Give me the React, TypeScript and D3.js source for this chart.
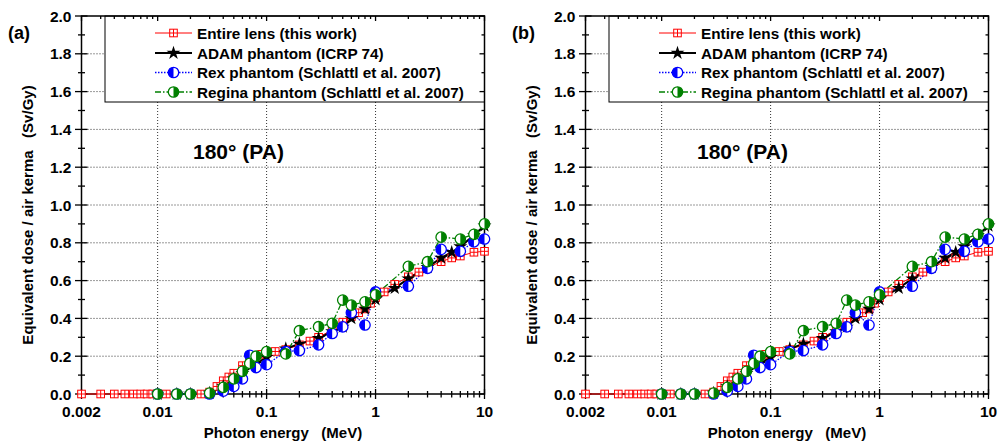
import React from 'react';
import * as d3 from 'd3';

const redE = [0.002, 0.003, 0.004, 0.005, 0.006, 0.007, 0.008, 0.009, 0.01, 0.012, 0.015, 0.02, 0.025, 0.03, 0.035, 0.04, 0.045, 0.05, 0.06, 0.07, 0.08, 0.09, 0.1, 0.12, 0.15, 0.2, 0.25, 0.3, 0.4, 0.5, 0.6, 0.7, 0.8, 0.9, 1, 1.2, 1.5, 2, 2.5, 3, 4, 5, 6, 8, 10];
const redV = [0, 0, 0, 0, 0, 0, 0, 0, 0, 0, 0, 0, 0, 0.01, 0.04, 0.07, 0.09, 0.11, 0.15, 0.18, 0.2, 0.21, 0.215, 0.225, 0.235, 0.26, 0.28, 0.3, 0.34, 0.38, 0.41, 0.43, 0.45, 0.48, 0.51, 0.54, 0.58, 0.62, 0.645, 0.67, 0.7, 0.72, 0.73, 0.75, 0.755];

const blackE = [0.01, 0.015, 0.02, 0.03, 0.04, 0.05, 0.06, 0.08, 0.1, 0.15, 0.2, 0.3, 0.4, 0.5, 0.6, 0.8, 1, 1.5, 2, 3, 4, 5, 6, 8, 10];
const blackV = [0, 0, 0, 0.005, 0.04, 0.08, 0.11, 0.16, 0.195, 0.24, 0.265, 0.295, 0.33, 0.355, 0.4, 0.45, 0.5, 0.56, 0.61, 0.67, 0.72, 0.75, 0.78, 0.84, 0.89];

const rexE = [0.01, 0.015, 0.02, 0.03, 0.04, 0.05, 0.06, 0.07, 0.08, 0.1, 0.15, 0.2, 0.3, 0.4, 0.5, 0.6, 0.8, 1, 2, 3, 4, 6, 8, 10];
const rexV = [0, 0, 0, 0, 0.015, 0.04, 0.08, 0.205, 0.14, 0.155, 0.225, 0.23, 0.26, 0.32, 0.355, 0.43, 0.365, 0.54, 0.57, 0.665, 0.765, 0.755, 0.805, 0.82];

const reginaE = [0.01, 0.015, 0.02, 0.03, 0.04, 0.05, 0.06, 0.07, 0.08, 0.1, 0.15, 0.2, 0.3, 0.4, 0.5, 0.6, 0.8, 1, 2, 3, 4, 6, 8, 10];
const reginaV = [0, 0, 0, 0.005, 0.035, 0.08, 0.12, 0.162, 0.2, 0.224, 0.212, 0.335, 0.356, 0.374, 0.497, 0.47, 0.488, 0.525, 0.675, 0.7, 0.83, 0.82, 0.845, 0.9];

const legendLabels = [
  'Entire lens (this work)',
  'ADAM phantom (ICRP 74)',
  'Rex phantom (Schlattl et al. 2007)',
  'Regina phantom (Schlattl et al. 2007)',
];
const yTicks = [0, 0.2, 0.4, 0.6, 0.8, 1.0, 1.2, 1.4, 1.6, 1.8, 2.0];
const xTickLabels = [0.002, 0.01, 0.1, 1, 10];
const panelLabels = ['(a)', '(b)'];
const annotation = '180° (PA)';

const RED = '#ff0000';
const BLUE = '#0000ff';
const GREEN = '#008000';
const FONT = '"Liberation Sans", Arial, Helvetica, sans-serif';

const star = d3.symbol().type(d3.symbolStar).size(60)() as string;

function SquareCross({ cx, cy }: { cx: number; cy: number }) {
  const s = 3.8;
  return (
    <g stroke={RED} strokeWidth={1} fill="white">
      <rect x={cx - s} y={cy - s} width={2 * s} height={2 * s} />
      <line x1={cx - s} x2={cx + s} y1={cy} y2={cy} />
      <line x1={cx} x2={cx} y1={cy - s} y2={cy + s} />
    </g>
  );
}

function HalfCircle({ cx, cy, color, side }: { cx: number; cy: number; color: string; side: 'left' | 'right' }) {
  const r = 5.2;
  const sweep = side === 'left' ? 0 : 1;
  return (
    <g>
      <circle cx={cx} cy={cy} r={r} fill="white" stroke={color} strokeWidth={1.3} />
      <path d={`M${cx},${cy - r} A${r},${r} 0 0 ${sweep} ${cx},${cy + r} Z`} fill={color} />
    </g>
  );
}

function Panel({ ox, label }: { ox: number; label: string }) {
  const x = d3.scaleLog().domain([0.002, 10]).range([ox + 81.5, ox + 484.5]);
  const y = d3.scaleLinear().domain([0, 2]).range([394, 16]);
  const x0 = x.range()[0], x1 = x.range()[1];
  const y0 = y.range()[0], y1 = y.range()[1];

  const minorX: number[] = [];
  [0.001, 0.01, 0.1, 1].forEach((d) => {
    for (let k = 2; k <= 9; k++) {
      const v = d * k;
      if (v > 0.002 && v < 10 && ![0.01, 0.1, 1].includes(+v.toFixed(6))) minorX.push(v);
    }
  });
  const minorY = d3.range(0.1, 2.0, 0.2);

  const line = (es: number[], vs: number[]) =>
    d3.line<number>().x((_, i) => x(es[i])).y((v) => y(v))(vs) as string;

  const legendY = [33, 53, 72.5, 92];
  const lx0 = ox + 155, lx1 = ox + 192, lxm = ox + 173.5;

  return (
    <g fontFamily={FONT} fontWeight="bold">
      {/* grid */}
      {[0.2, 0.4, 0.6, 0.8, 1.0, 1.2, 1.4, 1.6, 1.8].map((t) => (
        <line key={'gy' + t} x1={x0} x2={x1} y1={y(t)} y2={y(t)} stroke="#333" strokeWidth={1} strokeDasharray="1,2" />
      ))}
      {[0.01, 0.1, 1].map((t) => (
        <line key={'gx' + t} x1={x(t)} x2={x(t)} y1={y0} y2={y1} stroke="#333" strokeWidth={1} strokeDasharray="1,2" />
      ))}

      {/* legend box */}
      <rect x={ox + 105} y={y1} width={x1 - (ox + 105)} height={102 - y1} fill="white" stroke="black" strokeWidth={1} />

      {/* axes frame */}
      <rect x={x0} y={y1} width={x1 - x0} height={y0 - y1} fill="none" stroke="black" strokeWidth={1.5} />

      {/* y ticks */}
      {yTicks.map((t) => (
        <g key={'yt' + t}>
          <line x1={x0 - 6.5} x2={x0 + 6} y1={y(t)} y2={y(t)} stroke="black" strokeWidth={1.3} />
          <line x1={x1 - 5} x2={x1} y1={y(t)} y2={y(t)} stroke="black" strokeWidth={1.3} />
          <text x={x0 - 10} y={y(t)} dy="0.36em" textAnchor="end" fontSize={15.5}>
            {t.toFixed(1)}
          </text>
        </g>
      ))}
      {minorY.map((t) => (
        <g key={'ym' + t}>
          <line x1={x0 - 3.5} x2={x0 + 3.5} y1={y(t)} y2={y(t)} stroke="black" strokeWidth={1.3} />
          <line x1={x1 - 3} x2={x1} y1={y(t)} y2={y(t)} stroke="black" strokeWidth={1.3} />
        </g>
      ))}

      {/* x ticks */}
      {xTickLabels.map((t) => (
        <g key={'xt' + t}>
          <line x1={x(t)} x2={x(t)} y1={y0 - 5} y2={y0 + 5} stroke="black" strokeWidth={1.3} />
          <line x1={x(t)} x2={x(t)} y1={y1} y2={y1 + 5} stroke="black" strokeWidth={1.3} />
          <text x={x(t)} y={y0 + 23} textAnchor="middle" fontSize={15.5}>
            {String(t)}
          </text>
        </g>
      ))}
      {minorX.map((t, i) => (
        <g key={'xm' + i}>
          <line x1={x(t)} x2={x(t)} y1={y0 - 3} y2={y0 + 3.5} stroke="black" strokeWidth={1.3} />
          <line x1={x(t)} x2={x(t)} y1={y1} y2={y1 + 3} stroke="black" strokeWidth={1.3} />
        </g>
      ))}

      {/* series lines */}
      <path d={line(redE, redV)} fill="none" stroke={RED} strokeWidth={1} />
      <path d={line(blackE, blackV)} fill="none" stroke="black" strokeWidth={2} />
      <path d={line(rexE, rexV)} fill="none" stroke={BLUE} strokeWidth={1.3} strokeDasharray="1.5,1.5" />
      <path d={line(reginaE, reginaV)} fill="none" stroke={GREEN} strokeWidth={1.3} strokeDasharray="6,2,1.5,2" />

      {/* markers */}
      {redE.map((e, i) => <SquareCross key={'r' + i} cx={x(e)} cy={y(redV[i])} />)}
      {blackE.map((e, i) => (
        <path key={'b' + i} d={star} transform={`translate(${x(e)},${y(blackV[i])})`} fill="black" />
      ))}
      {rexE.map((e, i) => <HalfCircle key={'x' + i} cx={x(e)} cy={y(rexV[i])} color={BLUE} side="left" />)}
      {reginaE.map((e, i) => <HalfCircle key={'g' + i} cx={x(e)} cy={y(reginaV[i])} color={GREEN} side="right" />)}

      {/* legend entries */}
      <line x1={lx0} x2={lx1} y1={legendY[0]} y2={legendY[0]} stroke={RED} strokeWidth={1} />
      <SquareCross cx={lxm} cy={legendY[0]} />
      <line x1={lx0} x2={lx1} y1={legendY[1]} y2={legendY[1]} stroke="black" strokeWidth={2} />
      <path d={star} transform={`translate(${lxm},${legendY[1]})`} fill="black" />
      <line x1={lx0} x2={lx1} y1={legendY[2]} y2={legendY[2]} stroke={BLUE} strokeWidth={1.3} strokeDasharray="1.5,1.5" />
      <HalfCircle cx={lxm} cy={legendY[2]} color={BLUE} side="left" />
      <line x1={lx0} x2={lx1} y1={legendY[3]} y2={legendY[3]} stroke={GREEN} strokeWidth={1.3} strokeDasharray="6,2,1.5,2" />
      <HalfCircle cx={lxm} cy={legendY[3]} color={GREEN} side="right" />
      {legendLabels.map((s, i) => (
        <text key={'lt' + i} x={ox + 197} y={legendY[i]} dy="0.36em" fontSize={15.3}>
          {s}
        </text>
      ))}

      {/* annotation */}
      <text x={ox + 193} y={159} fontSize={21}>{annotation}</text>

      {/* panel label */}
      <text x={ox + 8} y={39} fontSize={18}>{label}</text>

      {/* axis titles */}
      <text x={(x0 + x1) / 2} y={438} textAnchor="middle" fontSize={15} style={{ whiteSpace: 'pre' }}>
        {'Photon energy   (MeV)'}
      </text>
      <text
        transform={`translate(${ox + 33},${215}) rotate(-90)`}
        textAnchor="middle"
        fontSize={15}
        style={{ whiteSpace: 'pre' }}
      >
        {'Equivalent dose / air kerma   (Sv/Gy)'}
      </text>
    </g>
  );
}

export default function App() {
  return (
    <svg width={998} height={445} style={{ position: 'absolute', left: 0, top: 0, background: 'white' }}>
      <rect width={998} height={445} fill="white" />
      <Panel ox={0} label={panelLabels[0]} />
      <Panel ox={504} label={panelLabels[1]} />
    </svg>
  );
}
